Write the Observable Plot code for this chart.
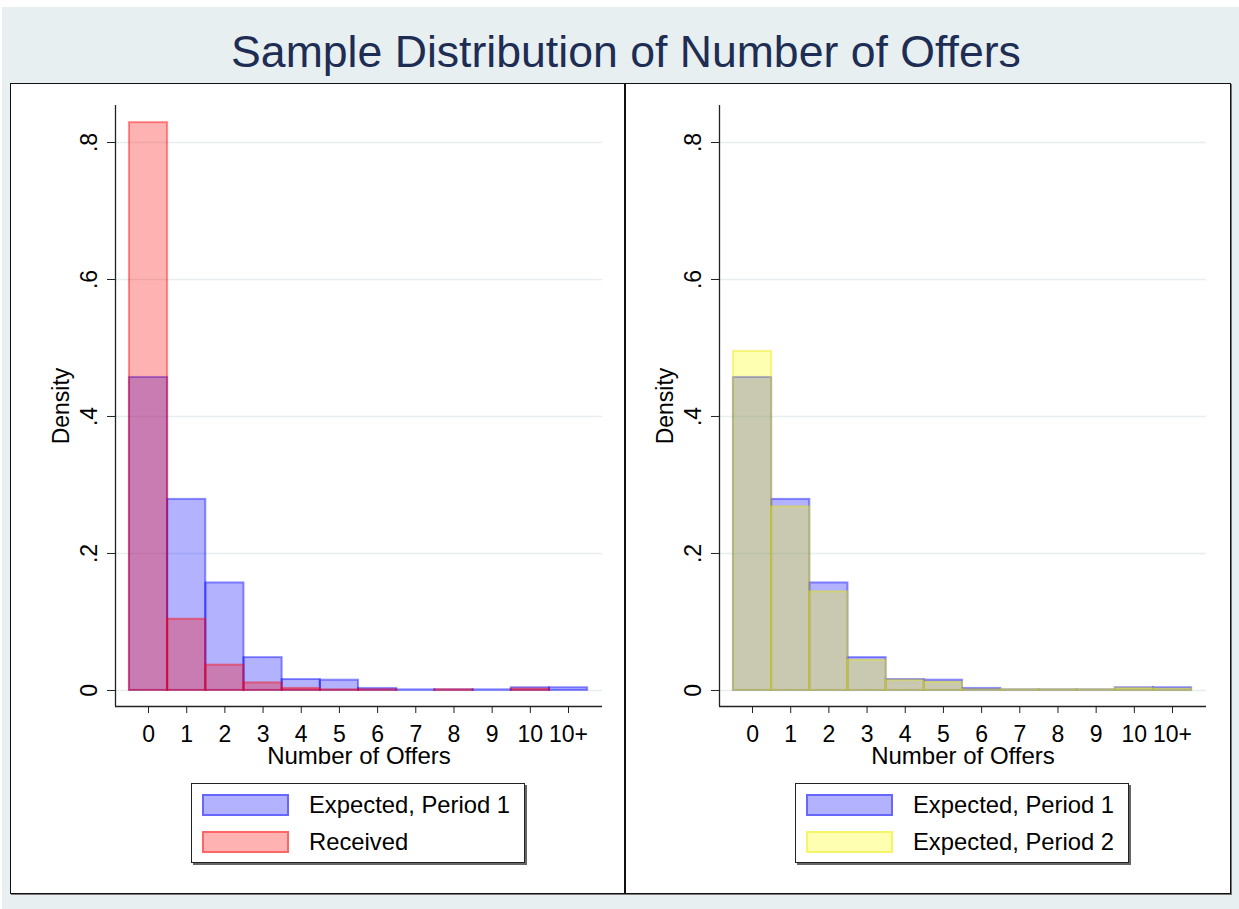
<!DOCTYPE html>
<html>
<head>
<meta charset="utf-8">
<script src="https://cdn.jsdelivr.net/npm/d3@7"></script>
<script src="https://cdn.jsdelivr.net/npm/@observablehq/plot@0.6"></script>
<style>
  body { margin: 0; background: #fff; font-family: "Liberation Sans", Arial, sans-serif; }
  #bg { position: absolute; left: 2px; top: 7px; width: 1237px; height: 902px; background: #e8eff1; }
  #title { position: absolute; left: 0; top: 27px; width: 1252px; text-align: center; font-size: 44.6px; line-height: 50px; color: #1e2d53; white-space: nowrap; }
  #frame { position: absolute; left: 10px; top: 83px; width: 1219px; height: 809px; background: #fff; border: 1px solid #111; box-shadow: 1px 1px 0 #777; }
  #divider { position: absolute; left: 624px; top: 83px; width: 2px; height: 811px; background: #111; }
  .panel { position: absolute; top: 84px; }
  .legend { position: absolute; top: 783px; width: 332px; height: 78px; background: #fff; border: 1px solid #222; box-shadow: 2px 2px 0 #666; font-size: 23.8px; }
  .legend .sw { position: absolute; left: 10px; width: 87px; height: 22px; box-sizing: border-box; border: 2px solid; }
  .legend .lab { position: absolute; left: 117px; white-space: nowrap; line-height: 24px; }
</style>
</head>
<body>
<div id="bg"></div>
<div id="title">Sample Distribution of Number of Offers</div>
<div id="frame"></div>
<div id="divider"></div>
<div id="left" class="panel" style="left:12px"></div>
<div id="right" class="panel" style="left:616px"></div>
<div id="legL" class="legend" style="left:191px"></div>
<div id="legR" class="legend" style="left:795px"></div>
<script>
// ---- data ----
const categories = ["0", "1", "2", "3", "4", "5", "6", "7", "8", "9", "10", "10+"];
const expectedP1 = [0.457, 0.279, 0.157, 0.048, 0.016, 0.015, 0.003, 0.001, 0.001, 0.001, 0.004, 0.004];
const received   = [0.829, 0.104, 0.037, 0.011, 0.003, 0.001, 0.001, 0.000, 0.001, 0.000, 0.002, 0.000];
const expectedP2 = [0.495, 0.268, 0.144, 0.044, 0.015, 0.012, 0.001, 0.001, 0.001, 0.001, 0.003, 0.002];
const yTicks = [0, 0.2, 0.4, 0.6, 0.8];
const yTickLabels = ["0", ".2", ".4", ".6", ".8"];
const xTitle = "Number of Offers";
const yTitle = "Density";
const seriesNames = { p1: "Expected, Period 1", rec: "Received", p2: "Expected, Period 2" };

const colors = {
  p1: { fill: "#0000ff", stroke: "#0000ff" },
  rec: { fill: "#ff0000", stroke: "#ff0000" },
  p2: { fill: "#ffff00", stroke: "#e8e800" }
};

function toRows(values) {
  return values.map((v, i) => ({ i, cat: categories[i], v }));
}

function barMark(values, c) {
  return Plot.rect(toRows(values), {
    x1: d => d.i - 0.5,
    x2: d => d.i + 0.5,
    y1: 0,
    y2: d => d.v,
    fill: c.fill,
    fillOpacity: 0.3,
    stroke: c.stroke,
    strokeOpacity: 0.42,
    strokeWidth: 2
  });
}

function panel(series) {
  const idx = categories.map((c, i) => i);
  const xDomain = [-0.865, categories.length - 1 + 0.89];
  const yDomain = [-0.0234, 0.854];
  return Plot.plot({
    width: 609,
    height: 690,
    marginLeft: 103,
    marginRight: 19,
    marginTop: 21,
    marginBottom: 68,
    style: { fontFamily: "Liberation Sans, Arial, sans-serif", fontSize: "23px", color: "#000", background: "transparent", overflow: "visible" },
    x: { type: "linear", domain: xDomain },
    y: { domain: yDomain },
    marks: [
      Plot.gridY(yTicks, { stroke: "#e6eef0", strokeOpacity: 1, strokeWidth: 1.5 }),
      ...series.map(([vals, c]) => barMark(vals, c)),
      Plot.ruleX([xDomain[0]], { stroke: "#222", strokeWidth: 1.3 }),
      Plot.ruleY([yDomain[0]], { stroke: "#222", strokeWidth: 1.3 }),
      Plot.axisY(yTicks, {
        tickFormat: d => yTickLabels[yTicks.indexOf(d)],
        tickRotate: -90,
        tickSize: 8,
        tickPadding: 11,
        stroke: "#222",
        label: null
      }),
      Plot.text([yTitle], {
        frameAnchor: "left",
        rotate: -90,
        textAnchor: "middle",
        lineAnchor: "top",
        dx: -63,
        fontSize: 23,
        fill: "#000"
      }),
      Plot.axisX(idx, {
        tickFormat: i => categories[i],
        tickSize: 7,
        tickPadding: 12,
        stroke: "#222",
        label: null
      }),
      Plot.text([xTitle], {
        frameAnchor: "bottom",
        textAnchor: "middle",
        lineAnchor: "bottom",
        dy: 57,
        fontSize: 24,
        fill: "#000"
      })
    ]
  });
}

document.getElementById("left").appendChild(panel([[expectedP1, colors.p1], [received, colors.rec]]));
document.getElementById("right").appendChild(panel([[expectedP1, colors.p1], [expectedP2, colors.p2]]));

function legend(el, items) {
  items.forEach(([key, c], k) => {
    const top = 10 + k * 37;
    const sw = document.createElement("div");
    sw.className = "sw";
    sw.style.top = top + "px";
    sw.style.background = d3.color(c.fill).copy({ opacity: 0.3 }).toString();
    sw.style.borderColor = d3.color(c.stroke).copy({ opacity: 0.42 }).toString();
    const lab = document.createElement("div");
    lab.className = "lab";
    lab.style.top = (top - 1) + "px";
    lab.textContent = seriesNames[key];
    el.appendChild(sw);
    el.appendChild(lab);
  });
}
legend(document.getElementById("legL"), [["p1", colors.p1], ["rec", colors.rec]]);
legend(document.getElementById("legR"), [["p1", colors.p1], ["p2", colors.p2]]);
</script>
</body>
</html>
